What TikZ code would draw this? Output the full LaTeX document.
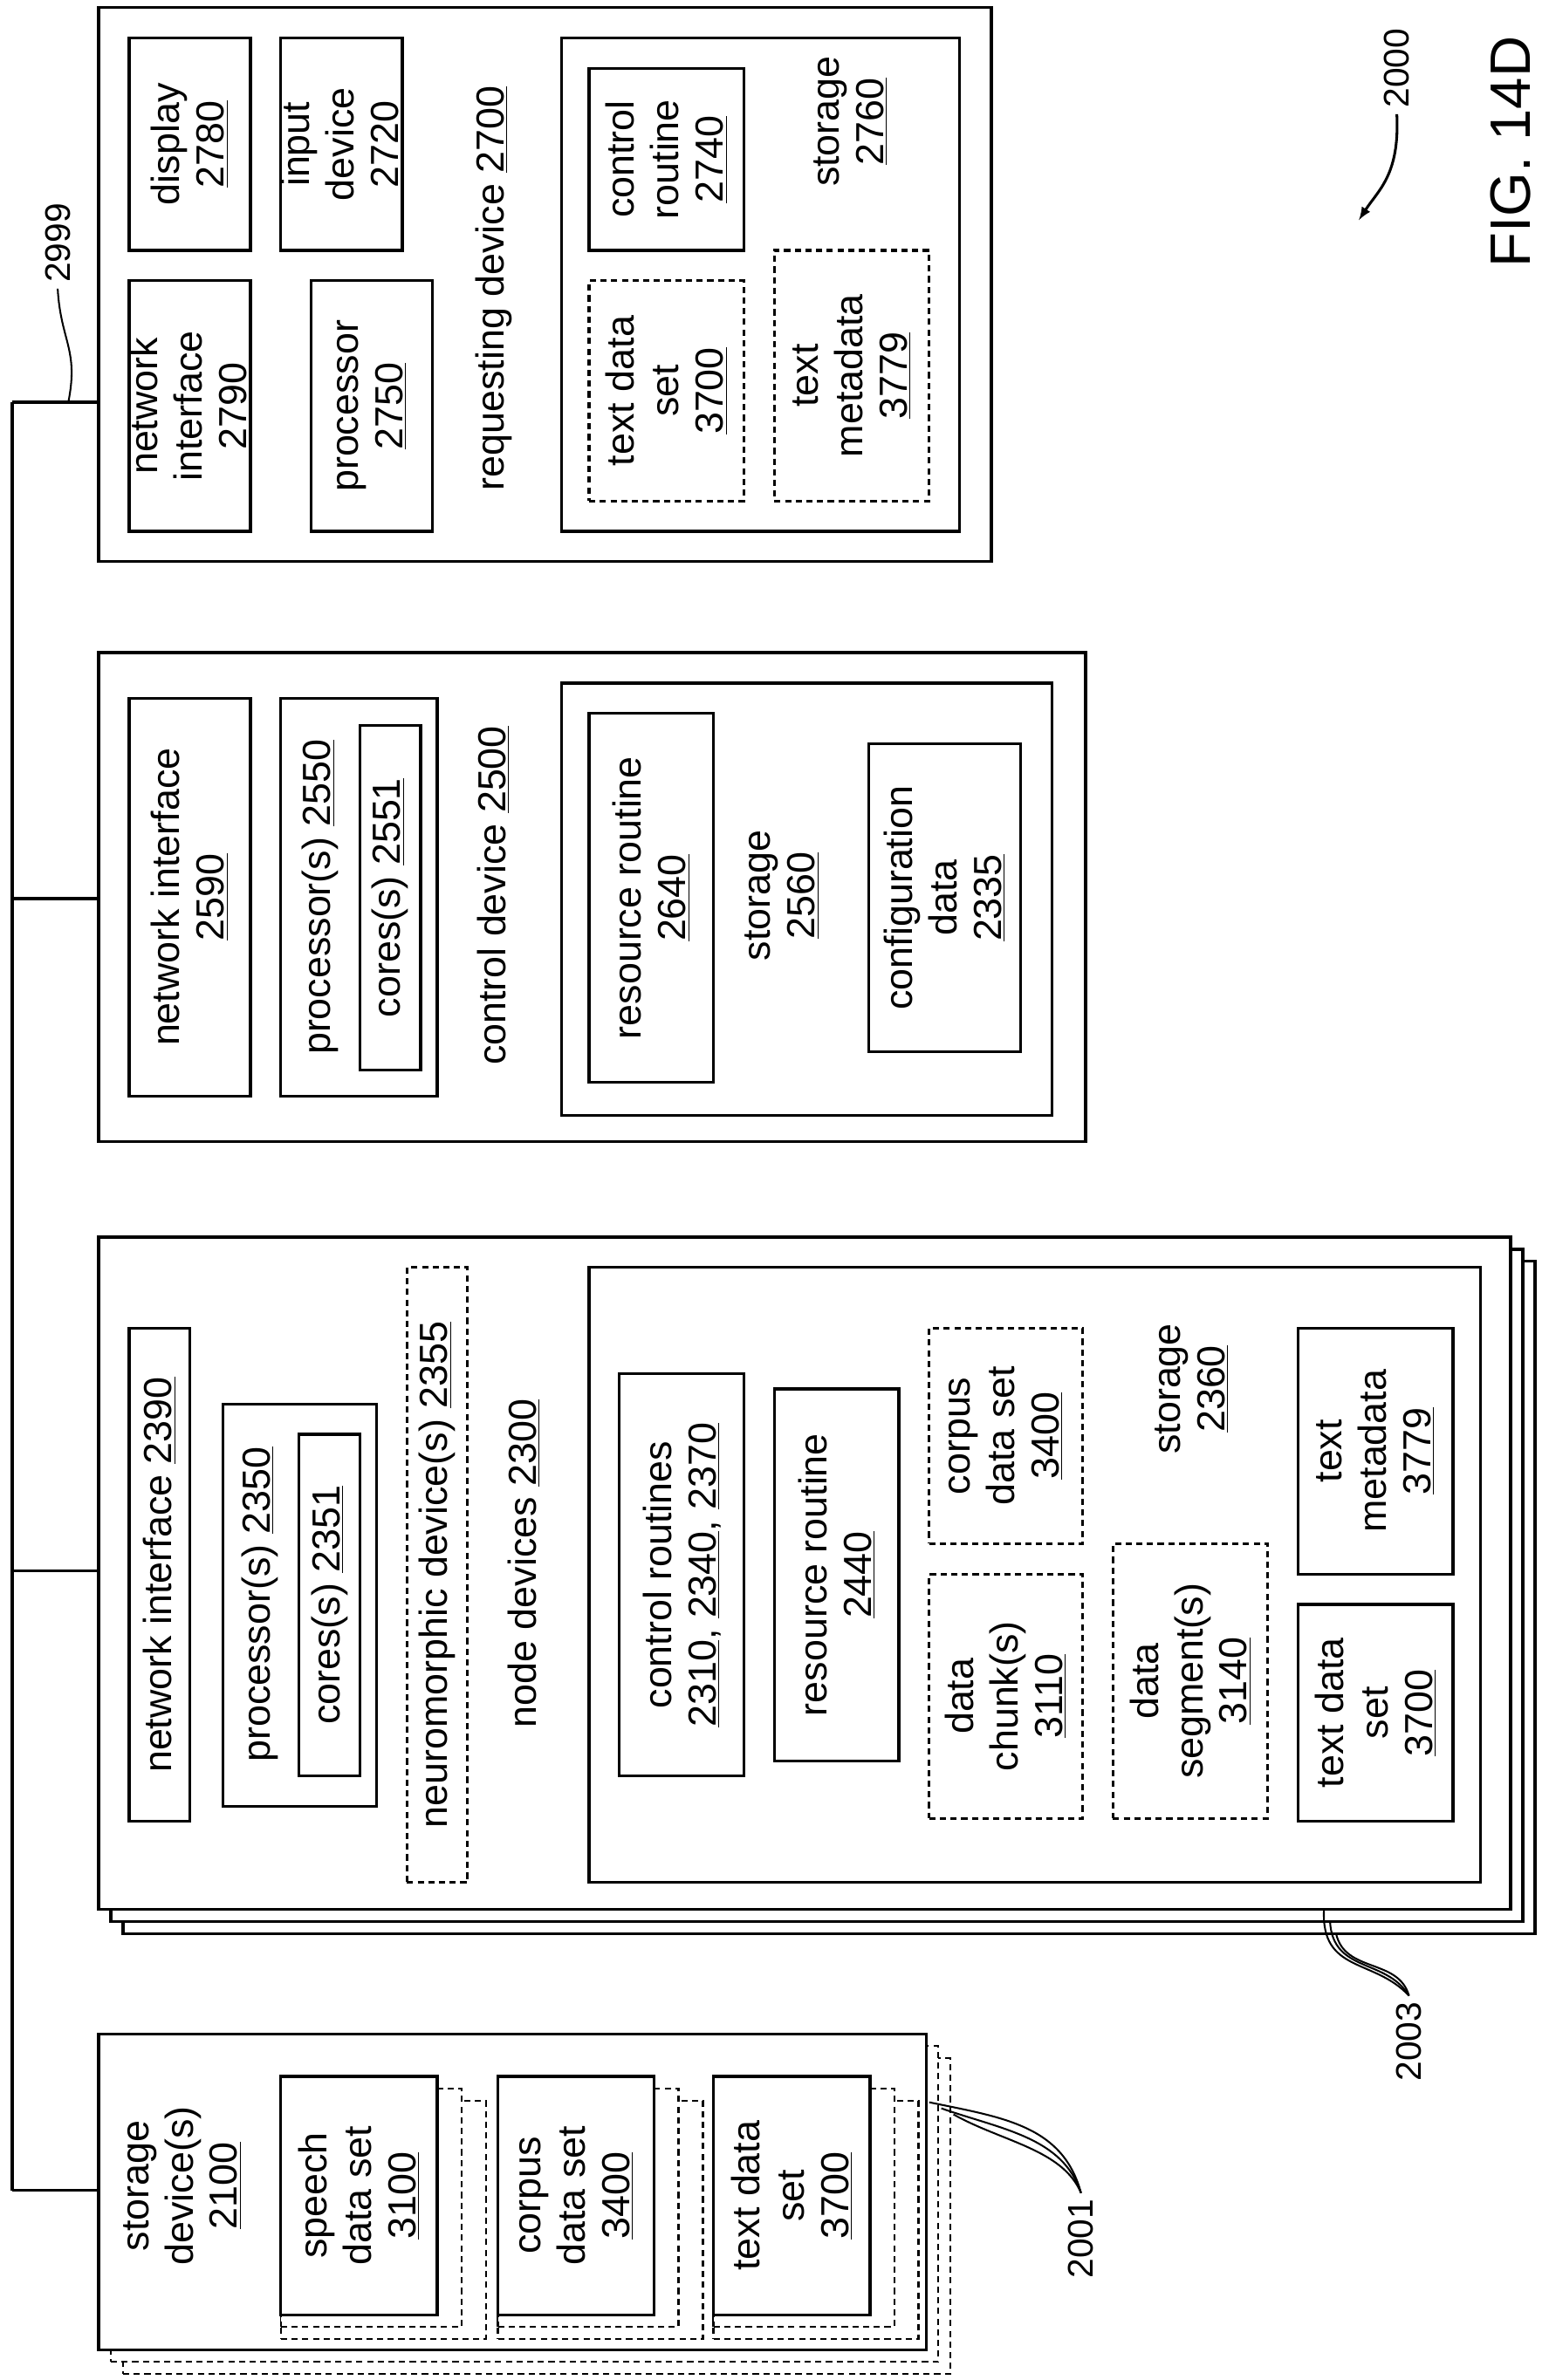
\documentclass[tikz,border=0pt]{standalone}
\usepackage{fontspec}
\setmainfont{Liberation Sans}
\usetikzlibrary{positioning}

% boxes are placed by their corners, given in pixels of the sheet
\newcommand{\blk}[6][]{%
  \node[blk,#1,minimum width={(#4-#2)*0.03cm},minimum height={(#5-#3)*0.03cm}]
    (#6) at ({(#2+#4)/2},{(#3+#5)/2}) {};}

\begin{document}
\begin{tikzpicture}[
        x=0.03cm, y=-0.03cm,
        blk/.style={draw, line width=1.6pt, inner sep=0pt, fill=white},
        dsh/.style={dash pattern=on 3.5pt off 2.5pt},
        txt/.style={rotate=90, align=center, font=\fontsize{22}{25}\selectfont},
        lead/.style={line width=1pt}]
    \useasboundingbox (0,0) rectangle (1020,1568);

    % requesting device
    \blk{65}{5}{653}{370}{rd}
    \blk{85}{185}{165}{350}{rdni}
    \blk{205}{185}{285}{350}{rdpr}
    \blk{85}{25}{165}{165}{rddi}
    \blk{185}{25}{265}{165}{rdin}
    \blk{370}{25}{632}{350}{rdst}
    \blk{388}{45}{490}{165}{rdcr}
    \blk[dsh]{388}{185}{490}{330}{rdtd}
    \blk[dsh]{510}{165}{612}{330}{rdtm}
    \node[txt] at (rdni) {network\\interface\\\underline{2790}};
    \node[txt] at (rdpr) {processor\\\underline{2750}};
    \node[txt] at (rddi) {display\\\underline{2780}};
    \node[txt] at (rdin) {input\\device\\\underline{2720}};
    \node[txt] at (325,190) {requesting device \underline{2700}};
    \node[txt] at (rdcr) {control\\routine\\\underline{2740}};
    \node[txt] at (rdtd) {text data\\set\\\underline{3700}};
    \node[txt] at (rdtm) {text\\metadata\\\underline{3779}};
    \node[txt] at (560,80) {storage\\\underline{2760}};

    % control device
    \blk{65}{430}{715}{752}{cd}
    \blk{85}{460}{165}{722}{cdni}
    \blk{185}{460}{288}{722}{cdpr}
    \blk{237}{478}{277}{705}{cdco}
    \blk{370}{450}{693}{735}{cdst}
    \blk{388}{470}{470}{713}{cdrr}
    \blk{572}{490}{672}{693}{cdcf}
    \node[txt] at (cdni) {network interface\\\underline{2590}};
    \node[txt] at (211,591) {processor(s) \underline{2550}};
    \node[txt] at (cdco) {cores(s) \underline{2551}};
    \node[txt] at (325,590) {control device \underline{2500}};
    \node[txt] at (cdrr) {resource routine\\\underline{2640}};
    \node[txt] at (cdcf) {configuration\\data\\\underline{2335}};
    \node[txt] at (515,590) {storage\\\underline{2560}};

    % node devices
    \blk{81}{831}{1011}{1274}{nd3}
    \blk{73}{823}{1003}{1266}{nd2}
    \blk{65}{815}{995}{1258}{nd}
    \blk{85}{875}{125}{1200}{ndni}
    \blk{147}{925}{248}{1190}{ndpr}
    \blk{197}{945}{237}{1170}{ndco}
    \blk[dsh]{268}{835}{308}{1240}{ndne}
    \blk{388}{835}{975}{1240}{ndst}
    \blk{408}{905}{490}{1170}{ndcr}
    \blk{510}{915}{592}{1160}{ndrr}
    \blk[dsh]{612}{1037}{713}{1198}{nddc}
    \blk[dsh]{612}{875}{713}{1017}{ndcp}
    \blk[dsh]{733}{1017}{835}{1198}{ndds}
    \blk{855}{1057}{957}{1200}{ndtd}
    \blk{855}{875}{957}{1037}{ndtm}
    \node[txt] at (ndni) {network interface \underline{2390}};
    \node[txt] at (171,1057) {processor(s) \underline{2350}};
    \node[txt] at (ndco) {cores(s) \underline{2351}};
    \node[txt] at (ndne) {neuromorphic device(s) \underline{2355}};
    \node[txt] at (345,1030) {node devices \underline{2300}};
    \node[txt] at (ndcr) {control routines\\\underline{2310}, \underline{2340}, \underline{2370}};
    \node[txt] at (ndrr) {resource routine\\\underline{2440}};
    \node[txt] at (nddc) {data\\chunk(s)\\\underline{3110}};
    \node[txt] at (ndcp) {corpus\\data set\\\underline{3400}};
    \node[txt] at (ndds) {data\\segment(s)\\\underline{3140}};
    \node[txt] at (785,915) {storage\\\underline{2360}};
    \node[txt] at (ndtd) {text data\\set\\\underline{3700}};
    \node[txt] at (ndtm) {text\\metadata\\\underline{3779}};

    % storage devices
    \blk[dsh,line width=1.2pt]{81}{1356}{626}{1564}{sd3}
    \blk[dsh,line width=1.2pt]{73}{1348}{618}{1556}{sd2}
    \blk{65}{1340}{610}{1548}{sd}
    \foreach \n/\x in {sp/185, cp/328, td/470} {
        \blk[dsh,line width=1.2pt]{\x+16}{1384}{\x+119}{1541}{\n3}
        \blk[dsh,line width=1.2pt]{\x+8}{1376}{\x+111}{1533}{\n2}
        \blk{\x}{1368}{\x+103}{1525}{\n}
    }
    \node[txt] at (120,1440) {storage\\device(s)\\\underline{2100}};
    \node[txt] at (sp) {speech\\data set\\\underline{3100}};
    \node[txt] at (cp) {corpus\\data set\\\underline{3400}};
    \node[txt] at (td) {text data\\set\\\underline{3700}};

    % network
    \coordinate (b1) at (8,265);
    \coordinate (b4) at (8,1443);
    \draw[line width=1.6pt] (b1) -- (b4);
    \draw[line width=1.6pt] (b1) -- (rd.west |- b1);
    \draw[line width=1.6pt] (8,592) -- (cd.west |- 8,592);
    \draw[line width=1.6pt] (8,1035) -- (nd.west |- 8,1035);
    \draw[line width=1.6pt] (b4) -- (sd.west |- b4);

    % labels
    \node[txt,font=\fontsize{20}{24}\selectfont] (l2999) at (38,160) {2999};
    \draw[lead] (l2999.west) .. controls (40,225) and (52,230) .. (45,265);
    \node[txt,font=\fontsize{20}{24}\selectfont] (l2001) at (712,1475) {2001};
    \foreach \d in {0,8,16}
        \draw[lead] (l2001.east) .. controls (700,1400+\d) and (660,1395+\d) .. (612+\d,1385+\d/2);
    \node[txt,font=\fontsize{20}{24}\selectfont] (l2003) at (928,1345) {2003};
    \foreach \d in {0,8,16}
        \draw[lead] (l2003.east) .. controls (905+\d,1290) and (870+\d,1300) .. (872+\d/2,1258+\d);
    \node[txt,font=\fontsize{20}{24}\selectfont] (l2000) at (920,45) {2000};
    \draw[lead,line width=1.5pt,-latex] (l2000.west) .. controls (922,115) and (908,125) .. (895,145);
    \node[txt,font=\fontsize{32}{36}\selectfont] (fig) at (995,100) {FIG. 14D};
\end{tikzpicture}
\end{document}
